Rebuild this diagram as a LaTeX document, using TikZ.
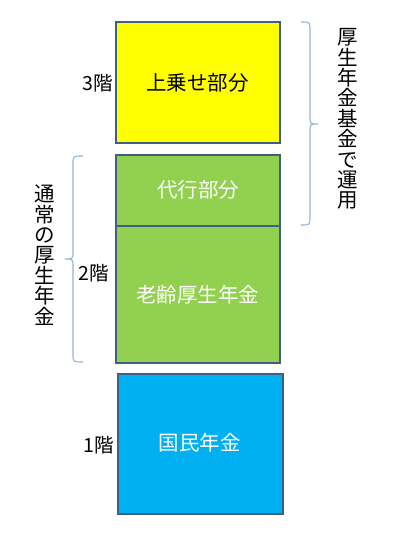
\documentclass[tikz,border=0pt]{standalone}
\usepackage{fontspec}
\setmainfont{Noto Sans CJK JP}
\definecolor{bdr}{HTML}{3F5F85}
\definecolor{yel}{HTML}{FFFF00}
\definecolor{grn}{HTML}{92D050}
\definecolor{blu}{HTML}{00B0F0}
\definecolor{brc}{HTML}{95B3D7}
\tikzset{
  box/.style={draw=bdr, line width=2.2pt, inner sep=0pt, outer sep=0pt},
  lbl/.style={font=\fontsize{20.5}{21}\selectfont, inner sep=0pt},
  flr/.style={font=\fontsize{19.5}{20}\selectfont, inner sep=0pt},
  vtext/.style={font=\fontsize{20.5}{20.4}\selectfont, align=center, inner sep=0pt},
  bracepath/.style={draw=brc, line width=1.1pt}
}
\begin{document}
\begin{tikzpicture}[x=1pt,y=-1pt]
\useasboundingbox (0,0) rectangle (400,538);
\fill[white] (0,0) rectangle (400,538);
% boxes
\node[box, fill=yel, minimum width=164pt, minimum height=121pt] (b3) at (198,82.5) {};
\node[box, fill=grn, minimum width=164pt, minimum height=71pt] (b2a) at (198,190.5) {};
\node[box, fill=grn, minimum width=164pt, minimum height=137pt] (b2b) at (198,294.5) {};
\node[box, fill=blu, minimum width=165pt, minimum height=140pt] (b1) at (200.5,444) {};
% box texts
\node[lbl, text=black] (t3) at (197.5,83) {上乗せ部分};
\node[lbl, text=white] (t2a) at (198,190) {代行部分};
\node[lbl, text=white] (t2b) at (197.5,295) {老齢厚生年金};
\node[lbl, text=white] (t1) at (199.5,443) {国民年金};
% floor labels
\node[flr, anchor=east] (f3) at (113,83) {3階};
\node[flr, anchor=east] (f2) at (109,273) {2階};
\node[flr, anchor=east] (f1) at (114,445) {1階};
% braces
\draw[bracepath] (301,22) .. controls (310,22) .. (310,30) -- (310,116)
  .. controls (310,124) .. (318,124) .. controls (310,124) .. (310,132)
  -- (310,217) .. controls (310,225) .. (301,225);
\draw[bracepath] (83,156) .. controls (73,156) .. (73,164) -- (73,251)
  .. controls (73,259) .. (65,259) .. controls (73,259) .. (73,267)
  -- (73,354) .. controls (73,362) .. (83,362);
% vertical texts
\node[vtext] (rv) at (348,119) {厚\\生\\年\\金\\基\\金\\で\\運\\用};
\node[vtext] (lv) at (45,255) {通\\常\\の\\厚\\生\\年\\金};
\end{tikzpicture}
\end{document}
